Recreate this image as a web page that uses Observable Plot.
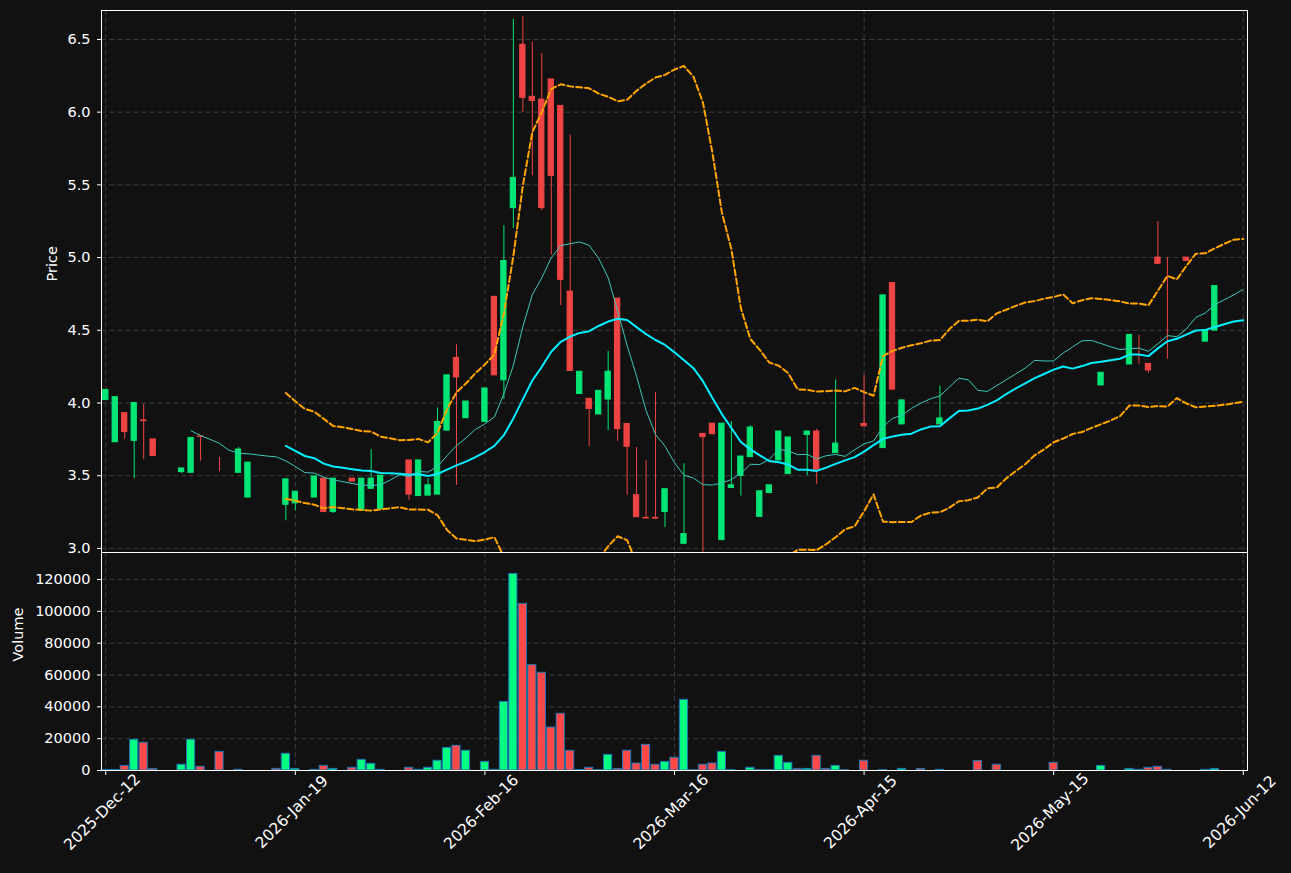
<!DOCTYPE html>
<html>
<head>
<meta charset="utf-8">
<script src="https://cdn.jsdelivr.net/npm/d3@7"></script>
<script src="https://cdn.jsdelivr.net/npm/@observablehq/plot@0.6"></script>
<style>
  html, body { margin: 0; padding: 0; background: #111111; }
  #chart { width: 1291px; height: 873px; position: relative; background: #111111; }
  #chart svg { display: block; overflow: visible; }
  #chart svg.price { position: relative; z-index: 2; }
  #chart svg.volume { position: relative; z-index: 1; }
</style>
</head>
<body>
<div id="chart"></div>
<script>
const tickIndex = [0, 20, 40, 60, 80, 100, 120];
const tickLabels = ["2025-Dec-12", "2026-Jan-19", "2026-Feb-16", "2026-Mar-16", "2026-Apr-15", "2026-May-15", "2026-Jun-12"];
const priceTicks = [3.0, 3.5, 4.0, 4.5, 5.0, 5.5, 6.0, 6.5];
const volumeTicks = [0, 20000, 40000, 60000, 80000, 100000, 120000];

const opens = [4.02,3.73,3.93,3.74,3.88,3.75,3.67,3.67,3.525,3.52,
  3.77,3.77,3.527,3.527,3.52,3.35,3.59,3.59,3.495,3.30,
  3.31,3.35,3.35,3.48,3.25,3.48,3.48,3.26,3.41,3.27,
  3.72,3.72,3.605,3.36,3.363,3.37,3.81,4.31,3.895,4.09,
  3.87,4.73,4.156,5.34,6.464,6.105,6.086,6.225,6.043,4.766,
  4.062,4.029,3.921,4.024,4.718,3.856,3.366,3.21,3.21,3.251,
  3.084,3.032,3.89,3.788,3.858,3.057,3.416,3.498,3.628,3.217,
  3.381,3.605,3.511,3.514,3.78,3.804,3.658,3.655,3.70,3.846,
  3.856,4.0,3.69,4.825,3.853,4.018,4.018,4.018,3.853,4.461,
  4.44,3.894,4.018,4.018,4.42,4.42,4.42,4.42,4.42,4.42,
  4.44,4.44,4.44,4.44,4.44,4.121,4.206,4.226,4.265,4.466,
  4.269,5.0,5.0,4.363,5.0,5.0,4.422,4.498,4.804,4.804,
  4.603];
const highs = [4.09,4.04,3.93,4.00,3.99,3.75,3.67,3.67,3.55,3.76,
  3.77,3.77,3.626,3.527,3.694,3.59,3.59,3.59,3.495,3.475,
  3.39,3.35,3.495,3.48,3.48,3.48,3.48,3.48,3.68,3.50,
  3.72,3.72,3.605,3.605,3.48,3.966,4.19,4.40,4.01,4.09,
  4.10,4.73,5.22,6.639,6.66,6.481,6.404,6.225,6.043,5.842,
  4.215,4.029,4.084,4.354,4.718,3.856,3.694,3.603,4.072,3.407,
  3.084,3.582,3.89,3.788,3.858,3.858,3.872,3.632,3.845,3.393,
  3.434,3.804,3.763,3.514,3.804,3.82,3.658,4.158,3.70,3.846,
  4.192,4.0,4.74,4.825,4.018,4.018,4.018,4.018,4.117,4.461,
  4.44,3.894,4.018,4.018,4.42,4.42,4.42,4.42,4.42,4.42,
  4.44,4.44,4.44,4.44,4.44,4.208,4.206,4.226,4.468,4.466,
  4.269,5.247,5.0,4.363,5.0,5.0,4.502,4.804,4.804,4.804,
  4.603];
const lows = [4.02,3.73,3.75,3.48,3.61,3.635,3.67,3.67,3.515,3.52,
  3.60,3.77,3.527,3.527,3.52,3.35,3.59,3.59,3.495,3.19,
  3.26,3.35,3.35,3.25,3.24,3.48,3.46,3.26,3.41,3.27,
  3.72,3.72,3.33,3.36,3.363,3.37,3.81,3.434,3.895,4.09,
  3.87,4.19,4.024,5.20,5.998,5.562,5.323,5.017,4.67,4.22,
  4.062,3.70,3.921,3.809,3.737,3.366,3.215,3.206,3.205,3.143,
  3.084,3.032,3.89,2.95,3.785,3.057,3.416,3.36,3.628,3.217,
  3.381,3.605,3.511,3.514,3.502,3.44,3.658,3.655,3.70,3.846,
  3.84,4.0,3.69,4.092,3.853,4.018,4.018,4.018,3.853,4.461,
  4.44,3.894,4.018,4.018,4.42,4.42,4.42,4.42,4.42,4.42,
  4.44,4.44,4.44,4.44,4.44,4.121,4.206,4.226,4.265,4.267,
  4.206,4.957,4.301,4.363,4.977,5.0,4.422,4.498,4.804,4.804,
  4.603];
const closes = [4.09,4.04,3.80,4.00,3.875,3.635,3.67,3.67,3.55,3.76,
  3.768,3.77,3.527,3.527,3.68,3.59,3.59,3.59,3.495,3.475,
  3.39,3.35,3.495,3.25,3.48,3.48,3.46,3.48,3.48,3.50,
  3.72,3.72,3.37,3.605,3.434,3.87,4.19,4.176,4.01,4.09,
  4.10,4.19,4.976,5.548,6.098,6.077,5.34,5.562,4.847,4.22,
  4.215,3.959,4.084,4.215,3.82,3.699,3.215,3.206,3.205,3.407,
  3.084,3.098,3.89,3.765,3.785,3.858,3.434,3.632,3.831,3.393,
  3.434,3.804,3.763,3.514,3.804,3.541,3.658,3.721,3.70,3.846,
  3.84,4.0,4.74,4.092,4.018,4.018,4.018,4.018,3.894,4.461,
  4.44,3.894,4.018,4.018,4.42,4.42,4.42,4.42,4.42,4.42,
  4.44,4.44,4.44,4.44,4.44,4.208,4.206,4.226,4.468,4.466,
  4.224,4.957,5.0,4.363,4.977,5.0,4.502,4.804,4.804,4.804,
  4.603];
const volumes = [300,300,2900,19300,17400,1000,0,0,3600,19300,
  2300,0,11700,0,400,0,0,0,1000,10500,
  1000,0,400,2900,1000,0,1700,6700,4200,400,
  0,0,1700,400,1700,6100,14200,15500,12400,0,
  5400,400,43100,123500,104700,66200,61400,27000,35600,12400,
  300,1700,200,9800,1000,12400,4400,16100,3600,5400,
  8000,44400,200,3600,4400,11700,200,0,1700,300,
  200,9200,4800,1000,1000,9200,1000,2900,200,0,
  6100,0,200,0,1000,0,1000,0,400,0,
  0,0,5900,0,3600,0,0,0,0,0,
  4800,0,0,0,0,2900,0,0,1000,400,
  1700,2300,400,0,0,0,400,1000,0,0,
  0];

const UP = "#00e676", DOWN = "#ef4444";
const VUP = "#00ff80", VDOWN = "#ff4848", VEDGE = "#1f77b4";
const bars = opens.map((o, i) => ({i, o, h: highs[i], l: lows[i], c: closes[i], v: volumes[i]}));

function rolling(k) {
  const out = [];
  for (let i = k - 1; i < closes.length; i++) {
    const w = closes.slice(i - k + 1, i + 1);
    out.push({i, m: d3.mean(w), s: d3.deviation(w)});
  }
  return out;
}
const ma10 = rolling(10);
const ma20 = rolling(20);

const xDomain = [-0.45, 120.45];
const font = "DejaVu Sans, sans-serif";
const gridStyle = {stroke: "#3c3c3c", strokeOpacity: 1, strokeDasharray: "5,3", strokeWidth: 1};

const pricePlot = Plot.plot({
  className: "price",
  width: 1291, height: 552,
  marginLeft: 101, marginRight: 44, marginTop: 10, marginBottom: 0,
  style: {background: "#111111", color: "#ffffff", fontFamily: font, fontSize: "14px"},
  x: {domain: xDomain, axis: null},
  y: {domain: [2.972, 6.699], axis: null},
  color: {type: "identity"},
  marks: [
    Plot.gridY(priceTicks, gridStyle),
    Plot.gridX(tickIndex, gridStyle),
    Plot.axisY({ticks: priceTicks, tickFormat: d => d.toFixed(1), tickSize: 4, tickPadding: 7, fontSize: 14.5, label: null, stroke: "#fff", fill: "#fff"}),
    Plot.text(["Price"], {frameAnchor: "left", dx: -49, rotate: -90, text: d => d, fontSize: 14.5, fill: "#fff"}),
    Plot.ruleX(bars, {x: "i", y1: "l", y2: "h", stroke: d => d.c > d.o ? UP : DOWN, strokeWidth: 1, clip: true}),
    Plot.rect(bars, {x1: d => d.i - 0.28, x2: d => d.i + 0.28, y1: "o", y2: "c",
      fill: d => d.c > d.o ? UP : DOWN, stroke: d => d.c > d.o ? UP : DOWN, strokeWidth: 1, clip: true}),
    Plot.line(ma10, {x: "i", y: "m", stroke: "#3cc8b8", strokeWidth: 1, clip: true}),
    Plot.line(ma20, {x: "i", y: "m", stroke: "#00f0ff", strokeWidth: 2, clip: true}),
    Plot.line(ma20, {x: "i", y: d => d.m + 2 * d.s, stroke: "#ffa500", strokeWidth: 2, strokeDasharray: "6,3", clip: true}),
    Plot.line(ma20, {x: "i", y: d => d.m - 2 * d.s, stroke: "#ffa500", strokeWidth: 2, strokeDasharray: "6,3", clip: true}),
    Plot.frame({stroke: "#ffffff", strokeWidth: 1})
  ]
});

const volumePlot = Plot.plot({
  className: "volume",
  width: 1291, height: 321,
  marginLeft: 101, marginRight: 44, marginTop: 0, marginBottom: 103,
  style: {background: "#111111", color: "#ffffff", fontFamily: font, fontSize: "14px"},
  x: {domain: xDomain, axis: null},
  y: {domain: [0, 136970], axis: null},
  color: {type: "identity"},
  marks: [
    Plot.gridY(volumeTicks, gridStyle),
    Plot.gridX(tickIndex, gridStyle),
    Plot.axisY({ticks: volumeTicks, tickFormat: d => String(d), tickSize: 4, tickPadding: 7, fontSize: 14.5, label: null, stroke: "#fff", fill: "#fff"}),
    Plot.axisX({ticks: tickIndex, tickFormat: () => "", tickSize: 5, label: null, stroke: "#fff"}),
    Plot.text(["Volume"], {frameAnchor: "left", dx: -83, rotate: -90, text: d => d, fontSize: 14.5, fill: "#fff"}),
    Plot.rect(bars.filter(d => d.v > 0), {x1: d => d.i - 0.43, x2: d => d.i + 0.43, y1: 0, y2: "v",
      fill: d => d.c > d.o ? VUP : VDOWN, stroke: VEDGE, strokeWidth: 1}),
    Plot.text(tickIndex.map((x, j) => ({x, t: tickLabels[j]})), {x: "x", text: "t", frameAnchor: "bottom", dy: 45, rotate: -45, fontSize: 15.5, fill: "#fff"}),
    Plot.frame({stroke: "#ffffff", strokeWidth: 1})
  ]
});

const el = document.getElementById("chart");
el.appendChild(pricePlot);
el.appendChild(volumePlot);
</script>
</body>
</html>
